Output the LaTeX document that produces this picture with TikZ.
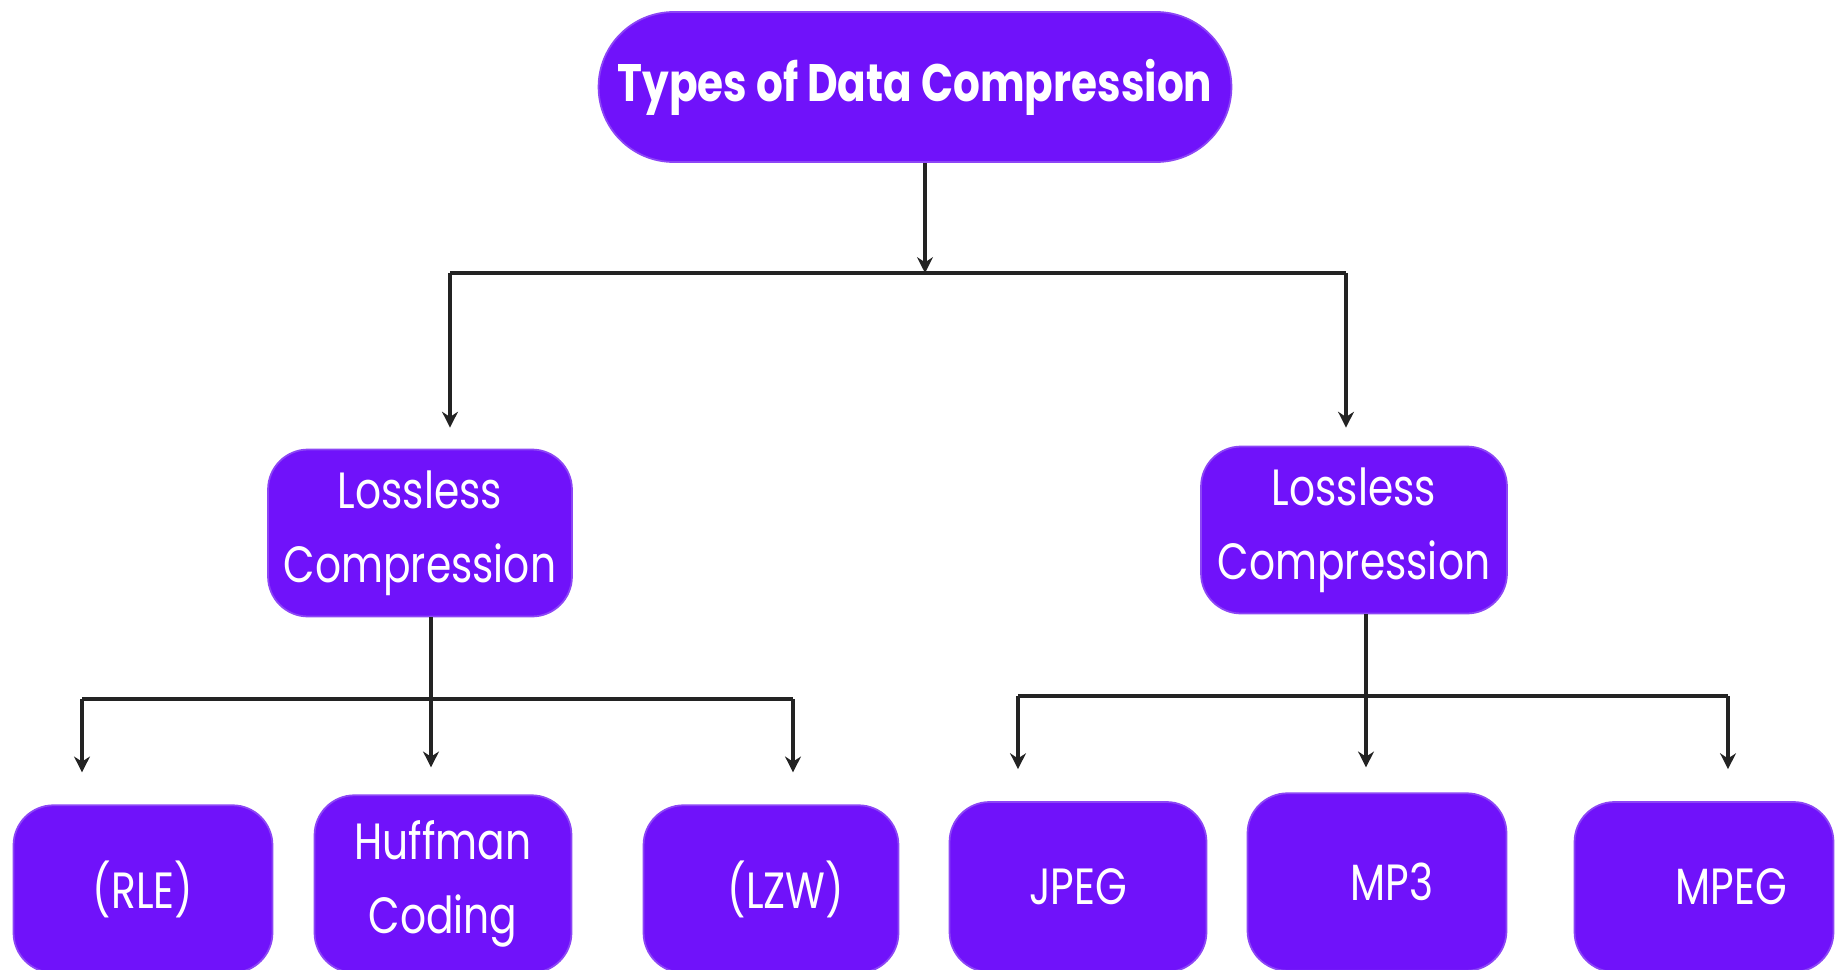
\documentclass[tikz,border=0pt]{standalone}
\usepackage{fontspec}
\newfontfamily\boxfont[FakeStretch=0.8]{Poppins}
\usepackage{tikz}
\usetikzlibrary{positioning}
\usetikzlibrary{arrows.meta}
\definecolor{boxfill}{RGB}{112,18,250}
\definecolor{boxedge}{RGB}{140,70,245}
\definecolor{linegray}{RGB}{35,35,35}

\begin{document}
\begin{tikzpicture}[x=0.02cm,y=-0.02cm,
        box/.style={draw=boxedge, line width=1pt, fill=boxfill, rounded corners=0.8cm,
            text=white, align=center, inner sep=0pt,
            font=\boxfont\fontsize{29}{42}\selectfont},
        link/.style={draw=linegray, line width=1.8pt},
        linkarrow/.style={link, -{Stealth[length=9pt,width=9pt]}}]
        \useasboundingbox (0,0) rectangle (1843,970);

        \node[box, minimum width=12.66cm, minimum height=3cm, rounded corners=1.5cm,
            font=\boxfont\bfseries\fontsize{30}{36}\selectfont] (types) at (915,87) {Types of Data Compression};

        \node[box, minimum width=6.08cm, minimum height=3.34cm] (lossA) at (420,533) {Lossless\\Compression};
        \node[box, minimum width=6.12cm, minimum height=3.34cm] (lossB) at (1354,530) {Lossless\\Compression};

        \node[box, minimum width=5.18cm, minimum height=3.35cm] (rle) at (143,889) {(RLE)};
        \node[box, minimum width=5.14cm, minimum height=3.55cm] (huff) at (443,884) {Huffman\\Coding};
        \node[box, minimum width=5.1cm, minimum height=3.35cm] (lzw) at (771,889) {\hspace*{0.6cm}(LZW)};
        \node[box, minimum width=5.14cm, minimum height=3.4cm] (jpeg) at (1078,887) {JPEG};
        \node[box, minimum width=5.18cm, minimum height=3.55cm] (mp3) at (1377,882) {\hspace*{0.6cm}MP3};
        \node[box, minimum width=5.18cm, minimum height=3.4cm] (mpeg) at (1704,887) {\hspace*{1.1cm}MPEG};

        \coordinate (busTop) at (925,273);
        \coordinate (busTopL) at (450,273);
        \coordinate (busTopR) at (1346,273);
        \coordinate (busA) at (431,699);
        \coordinate (busAL) at (82,699);
        \coordinate (busAR) at (793,699);
        \coordinate (busB) at (1366,696);
        \coordinate (busBL) at (1018,696);
        \coordinate (busBR) at (1728,696);

        \draw[linkarrow] (types.south -| busTop) -- (busTop);
        \draw[link] (busTopL) -- (busTopR);
        \draw[linkarrow, shorten >=0.42cm] (busTopL) -- (busTopL |- lossA.north);
        \draw[linkarrow, shorten >=0.36cm] (busTopR) -- (busTopR |- lossB.north);

        \draw[link] (busAL) -- (busAR);
        \draw[linkarrow, shorten >=0.54cm] (lossA.south -| busA) -- (busA |- huff.north);
        \draw[link] (busBL) -- (busBR);
        \draw[linkarrow, shorten >=0.5cm] (lossB.south -| busB) -- (busB |- mp3.north);

        \foreach \tip/\target in {busAL/rle, busAR/lzw, busBL/jpeg, busBR/mpeg}
            \draw[linkarrow, shorten >=0.64cm] (\tip) -- (\tip |- \target.north);
    \end{tikzpicture}
\end{document}
